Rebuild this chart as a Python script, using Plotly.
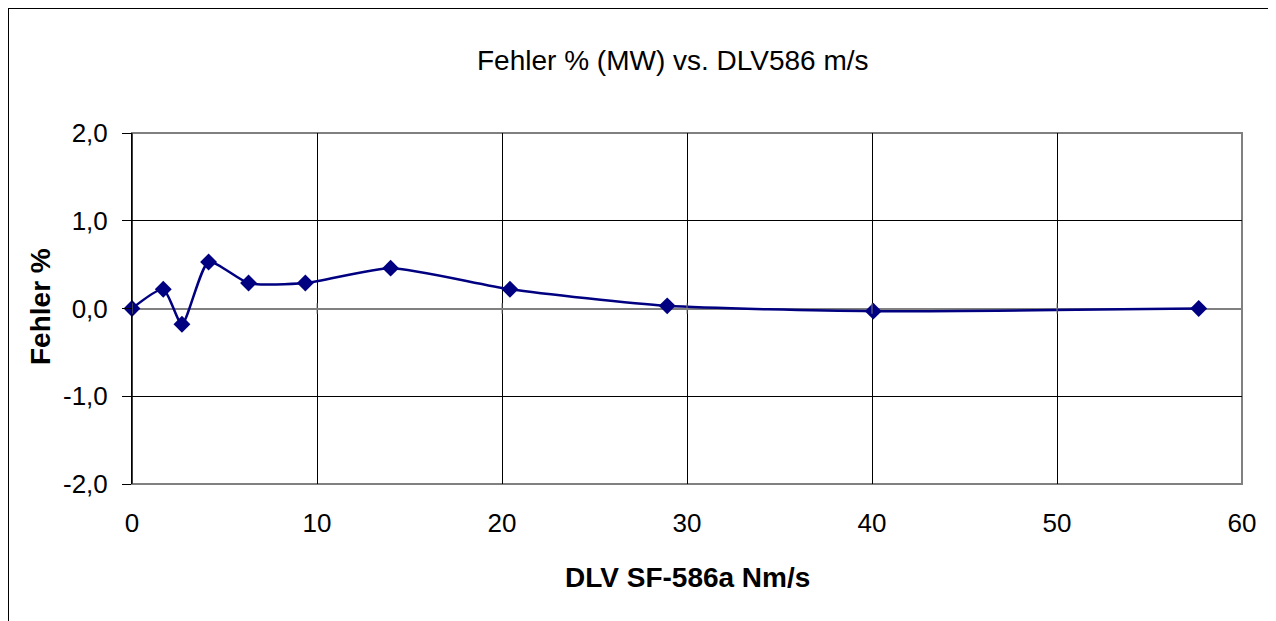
import plotly.graph_objects as go

x_vals = [0.0, 1.69, 2.70, 4.14, 6.30, 9.37, 13.98, 20.43, 28.93, 40.07, 57.66]
y_vals = [0.0, 0.22, -0.18, 0.53, 0.29, 0.29, 0.46, 0.22, 0.03, -0.03, 0.0]
x_ticks = [0, 10, 20, 30, 40, 50, 60]
y_ticks = [-2.0, -1.0, 0.0, 1.0, 2.0]
y_tick_text = ["-2,0", "-1,0", "0,0", "1,0", "2,0"]

# page has an 8px body margin; figure laid out in page coords minus 8
OFF = 8
W, H = 1268, 613
L, T = 132 - OFF, 133 - OFF
R = W - (1242 - OFF)
B = H - (484 - OFF)

def px(v):  # reference page x -> paper
    return (v - 132) / 1110

def py(v):  # reference page y -> paper
    return (484 - v) / 351

fig = go.Figure()
fig.add_trace(go.Scatter(
    x=x_vals, y=y_vals, mode="lines+markers",
    line=dict(color="#000080", width=2.5, shape="spline", smoothing=0.6),
    marker=dict(symbol="diamond", size=13, color="#000080"),
    showlegend=False, cliponaxis=False,
))

font = "Liberation Sans, Arial, sans-serif"
fig.update_layout(
    width=W, height=H,
    margin=dict(l=L, r=R, t=T, b=B),
    paper_bgcolor="white", plot_bgcolor="white",
    font=dict(family=font, size=26, color="black"),
    xaxis=dict(range=[0, 60], tickvals=x_ticks, showgrid=True, gridcolor="black",
               gridwidth=1, zeroline=False, showline=False, ticks="outside",
               ticklen=16, tickcolor="rgba(0,0,0,0)",
               tickfont=dict(size=26), ticklabelstandoff=0),
    yaxis=dict(range=[-2, 2], tickvals=y_ticks, ticktext=y_tick_text, showgrid=True,
               gridcolor="black", gridwidth=1, zeroline=True, zerolinecolor="#808080",
               zerolinewidth=2, showline=True, linecolor="black", linewidth=1,
               ticks="outside", ticklen=9, tickcolor="black", tickfont=dict(size=26),
               ticklabelstandoff=9),
    shapes=[
        dict(type="rect", xref="paper", yref="paper", x0=0, x1=1, y0=0, y1=1,
             line=dict(color="#808080", width=2), layer="below"),
        dict(type="line", xref="paper", yref="paper", x0=0, x1=0, y0=0, y1=1,
             line=dict(color="black", width=1)),
        dict(type="rect", xref="paper", yref="paper", x0=px(8), x1=px(1271),
             y0=py(660), y1=py(8), line=dict(color="black", width=2)),
    ],
    annotations=[
        dict(text="Fehler % (MW) vs. DLV586 m/s", xref="paper", yref="paper",
             x=px(673), y=py(60), xanchor="center", yanchor="middle",
             showarrow=False, font=dict(size=28)),
        dict(text="<b>Fehler %</b>", xref="paper", yref="paper", x=px(40), y=py(307),
             xanchor="center", yanchor="middle",
             showarrow=False, textangle=-90, font=dict(size=28)),
        dict(text="<b>DLV SF-586a Nm/s</b>", xref="paper", yref="paper",
             x=px(687), y=py(577), xanchor="center", yanchor="middle",
             showarrow=False, font=dict(size=28)),
    ],
)
for xv in x_ticks:
    fig.add_shape(type="line", xref="x", yref="y", x0=xv, x1=xv, y0=-0.06, y1=0.06,
                  line=dict(color="#808080", width=1))

fig.write_html("out.html")
